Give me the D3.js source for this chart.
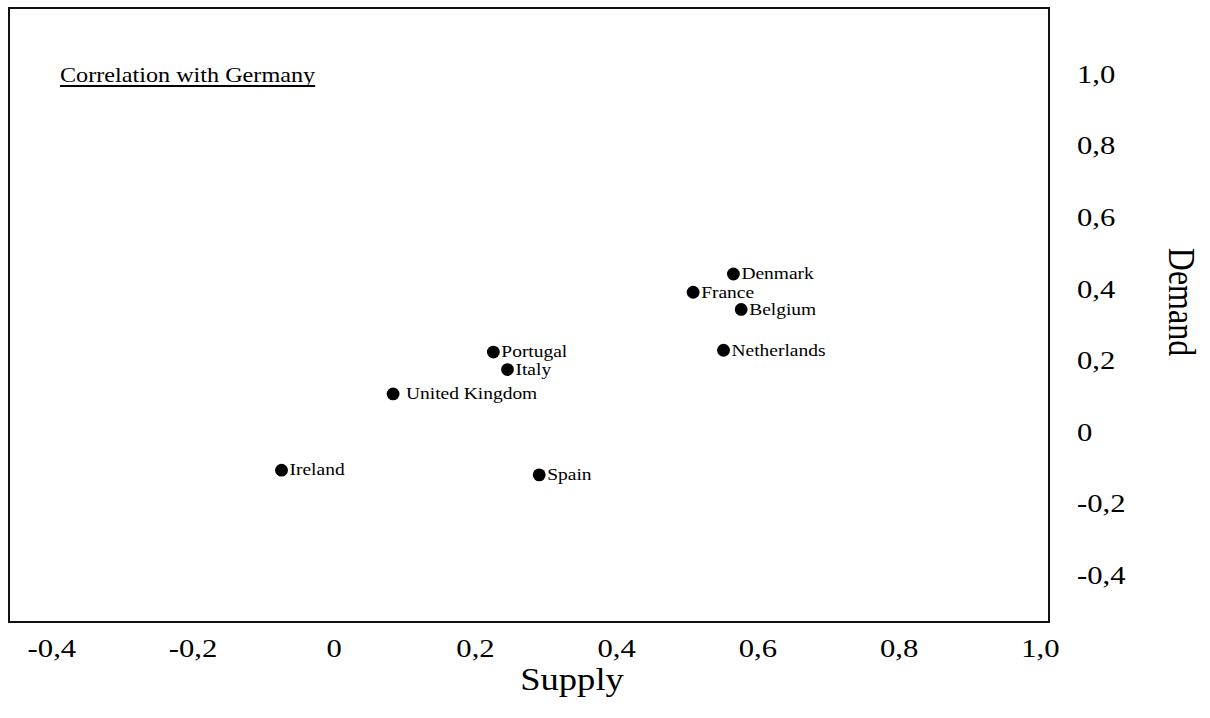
<!DOCTYPE html>
<html>
<head>
<meta charset="utf-8">
<script src="https://cdn.jsdelivr.net/npm/d3@7"></script>
<style>
  body { margin: 0; background: #fff; }
  svg { display: block; }
  text { font-family: 'Liberation Serif', Tinos, 'Times New Roman', Times, serif; fill: #000; }
</style>
</head>
<body>
<div id="chart"></div>
<script>
// correlation of supply / demand shocks with Germany
const countries = ['Denmark', 'France', 'Belgium', 'Netherlands', 'Portugal', 'Italy', ' United Kingdom', 'Ireland', 'Spain']
const supply = [0.566, 0.509, 0.577, 0.552, 0.226, 0.246, 0.084, -0.074, 0.291]
const demand = [0.441, 0.390, 0.342, 0.228, 0.223, 0.174, 0.106, -0.107, -0.120]
const xTicks = [-0.4, -0.2, 0, 0.2, 0.4, 0.6, 0.8, 1.0]
const yTicks = [-0.4, -0.2, 0, 0.2, 0.4, 0.6, 0.8, 1.0]

const width = 1210
const height = 718
const box = { left: 9, right: 1049, top: 8, bottom: 622 }
const serif = "'Liberation Serif', Tinos, 'Times New Roman', Times, serif"
// the original picture is stretched sideways, so the glyphs are too
const stretch = 1.18

const fmt = d => d === 0 ? '0' : (d < 0 ? '-' : '') + Math.abs(d).toFixed(1).replace('.', ',')

const svg = d3.select('#chart').append('svg')
  .attr('width', width)
  .attr('height', height)
  .attr('font-family', serif)

const x = d3.scaleLinear().domain([-0.46, 1.013]).range([box.left, box.right])
const y = d3.scaleLinear().domain([-0.531, 1.184]).range([box.bottom, box.top])

// plot frame
svg.append('rect')
  .attr('x', box.left)
  .attr('y', box.top)
  .attr('width', box.right - box.left)
  .attr('height', box.bottom - box.top)
  .style('fill', 'none')
  .style('stroke', '#111')
  .style('stroke-width', 2)

const xAxis = svg.append('g')
  .attr('transform', `translate(0,${box.bottom})`)
  .call(d3.axisBottom(x).tickValues(xTicks).tickFormat(fmt).tickSize(0).tickPadding(17))
  .attr('font-family', serif)
  .attr('font-size', 26)
xAxis.select('.domain').remove()
xAxis.selectAll('text')
  .attr('transform', `scale(${stretch},1)`)
  .attr('fill', '#000')

const yAxis = svg.append('g')
  .attr('transform', 'translate(1077,0)')
  .call(d3.axisRight(y).tickValues(yTicks).tickFormat(fmt).tickSize(0).tickPadding(0))
  .attr('font-family', serif)
  .attr('font-size', 26)
yAxis.select('.domain').remove()
yAxis.selectAll('text')
  .attr('transform', `scale(${stretch},1)`)
  .attr('fill', '#000')

// axis titles
svg.append('text')
  .attr('transform', `translate(572,690) scale(${stretch},1)`)
  .attr('text-anchor', 'middle')
  .style('font-size', '31px')
  .text('Supply')

svg.append('text')
  .attr('transform', `translate(1169,302) scale(${stretch},1) rotate(90)`)
  .attr('text-anchor', 'middle')
  .style('font-size', '32px')
  .text('Demand')

// inset title
const title = svg.append('text')
  .attr('transform', `translate(60,82) scale(${stretch},1)`)
  .style('font-size', '20.5px')
  .text('Correlation with Germany')
const tLen = title.node().getComputedTextLength() * stretch
svg.append('line')
  .attr('x1', 60)
  .attr('x2', 60 + tLen)
  .attr('y1', 86)
  .attr('y2', 86)
  .style('stroke', '#000')
  .style('stroke-width', 2)

const pts = countries.map((c, i) => ({ name: c, sx: supply[i], dy: demand[i] }))

const g = svg.append('g').attr('class', 'points')
const pt = g.selectAll('.pt')
  .data(pts)
  .enter()
  .append('g')
  .attr('class', 'pt')
  .attr('transform', d => `translate(${x(d.sx)},${y(d.dy)})`)

pt.append('circle')
  .attr('r', 6.4)
  .style('fill', '#000')

pt.append('text')
  .attr('transform', `translate(8,0) scale(${stretch},1)`)
  .attr('dy', '0.32em')
  .style('font-size', '16.5px')
  .style('white-space', 'pre')
  .text(d => d.name)
</script>
</body>
</html>
